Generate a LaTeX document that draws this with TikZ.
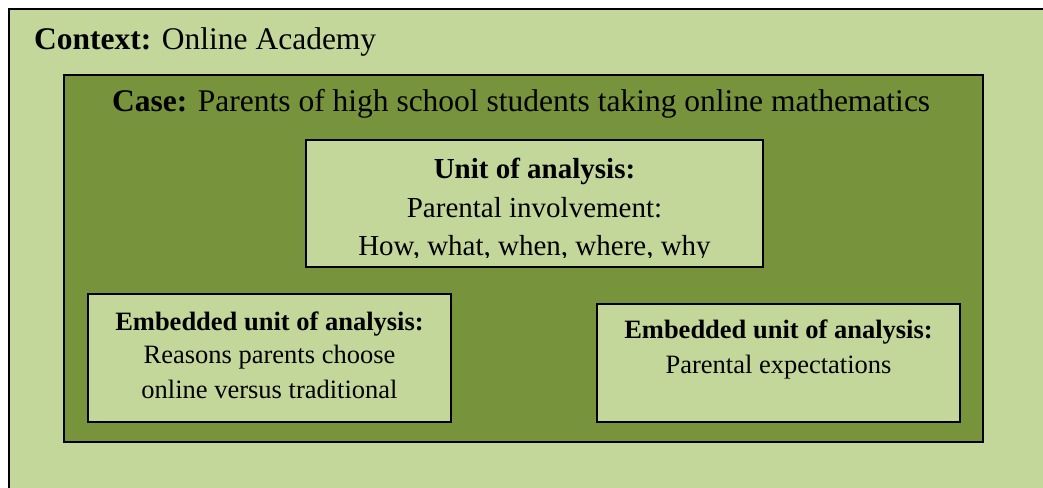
\documentclass[tikz,border=0pt]{standalone}
\usepackage{fontspec}
\setmainfont{Liberation Serif}
\definecolor{lightolive}{HTML}{C4D79B}
\definecolor{darkolive}{HTML}{77933C}
\tikzset{
  box/.style={draw=black, line width=1.6pt, anchor=north west, inner sep=0pt, outer sep=0pt},
  lightbox/.style={box, fill=lightolive},
  darkbox/.style={box, fill=darkolive},
  txt/.style={anchor=base, inner sep=0pt, text=black},
  big/.style={font=\fontsize{31.5}{36}\selectfont},
  mid/.style={font=\fontsize{29}{34}\selectfont},
  small/.style={font=\fontsize{26.5}{31}\selectfont}
}
\begin{document}
\begin{tikzpicture}[x=1pt, y=-1pt]
\useasboundingbox (0,0) rectangle (1043,487);
\clip (0,0) rectangle (1043,487);
\fill[white] (0,0) rectangle (1043,487);
% outer context box
\node[lightbox, minimum width=1060pt, minimum height=500pt] (context) at (9,9) {};
\node[txt, big, anchor=base west] (contextlabel) at (34,50) {\textbf{Context:} Online Academy};
% case box
\node[darkbox, minimum width=919pt, minimum height=367pt] (case) at (64,75) {};
\node[txt, big, anchor=base west] (caselabel) at (112,111) {\textbf{Case:} Parents of high school students taking online mathematics};
% unit of analysis
\node[lightbox, minimum width=457pt, minimum height=127pt] (unit) at (306,140) {};
\node[txt, mid] (unittitle) at (534.5,178) {\textbf{Unit of analysis:}};
\node[txt, mid] (unitline1) at (534.5,217) {Parental involvement:};
\begin{scope}
\clip (306,140) rectangle (763,257.5);
\node[txt, mid] (unitline2) at (534.5,255) {How, what, when, where, why};
\end{scope}
% embedded left
\node[lightbox, minimum width=363pt, minimum height=128pt] (embleft) at (88,294) {};
\node[txt, small] (emblefttitle) at (269.5,330) {\textbf{Embedded unit of analysis:}};
\node[txt, small] (embleftline1) at (269.5,363) {Reasons parents choose};
\node[txt, small] (embleftline2) at (269.5,398) {online versus traditional};
% embedded right
\node[lightbox, minimum width=363pt, minimum height=118pt] (embright) at (597,304) {};
\node[txt, small] (embrighttitle) at (778.5,338) {\textbf{Embedded unit of analysis:}};
\node[txt, small] (embrightline1) at (778.5,373) {Parental expectations};
\end{tikzpicture}
\end{document}
